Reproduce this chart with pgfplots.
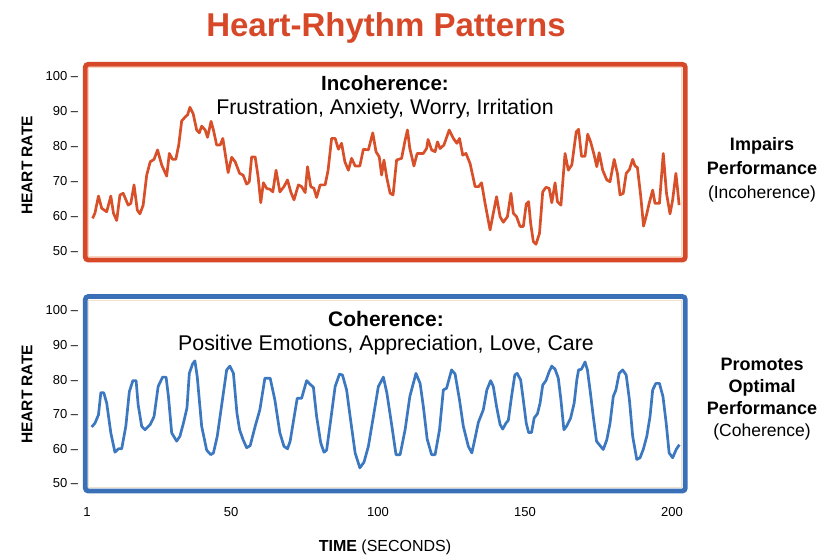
\documentclass[border=0pt]{standalone}
\usepackage{fontspec}
\setmainfont{Liberation Sans}
\usepackage{pgfplots}
\usepackage{pgfplotstable}
\pgfplotsset{compat=1.18}
\definecolor{topred}{RGB}{214,72,40}
\definecolor{linered}{RGB}{216,80,42}
\definecolor{boxblue}{RGB}{58,112,184}
\definecolor{lineblue}{RGB}{60,120,192}
\definecolor{peach}{RGB}{248,214,190}
\definecolor{beige}{RGB}{238,226,205}

\pgfplotstableread{
t hr
2.9 59.3
3.7 60.8
4.9 65.7
6.0 62.2
7.7 61.2
9.1 65.7
10.0 60.8
11.1 58.7
12.2 66.0
13.3 66.5
15.0 63.1
15.9 63.6
17.0 68.9
18.1 61.7
19.0 60.6
20.1 63.1
21.3 71.7
22.5 75.5
23.8 76.2
25.0 78.9
26.4 74.6
28.1 71.4
29.0 77.9
30.1 76.2
31.2 76.2
32.2 80.3
33.2 87.2
34.7 88.6
35.2 88.9
36.0 91.1
37.1 89.3
38.3 84.6
39.2 83.8
40.0 85.7
41.2 84.6
42.0 82.5
43.2 87.1
44.0 84.6
45.1 80.3
46.3 80.3
47.2 82.2
47.9 78.4
49.0 72.4
50.2 76.8
51.4 75.5
52.9 72.2
54.1 71.7
55.3 69.1
56.2 69.8
57.0 76.9
58.2 76.9
59.2 71.2
60.1 63.8
61.0 69.5
62.1 67.9
63.3 67.6
64.2 66.9
65.3 73.1
66.6 66.9
68.0 68.4
69.2 70.3
70.3 66.9
71.4 64.6
72.9 68.9
74.0 68.4
75.2 66.7
76.0 74.1
77.1 68.4
78.2 67.9
79.1 65.3
80.3 68.9
82.0 68.9
83.0 73.1
84.2 82.2
85.4 82.2
86.5 79.1
87.6 80.8
88.7 75.5
89.9 73.1
91.0 76.5
92.2 74.3
93.8 74.3
95.0 79.1
96.7 78.9
98.2 83.8
99.3 78.4
100.4 76.9
101.2 71.7
102.0 76.0
103.0 70.8
104.1 66.5
105.1 66.0
106.3 76.0
108.0 76.5
109.2 81.7
110.0 84.6
110.8 79.3
112.2 74.3
113.3 77.9
115.4 77.9
116.5 79.3
117.0 81.9
118.2 78.9
119.4 78.4
120.2 81.2
121.1 79.3
122.4 80.3
124.2 84.6
125.6 82.2
126.8 80.8
127.7 82.2
128.8 77.4
129.9 77.9
131.3 75.0
133.0 68.4
134.2 68.4
135.2 69.5
136.4 63.6
138.1 56.0
139.2 60.8
140.3 65.5
141.5 59.8
142.6 58.2
144.0 59.8
145.2 66.5
146.0 60.8
147.1 59.8
148.3 57.0
149.4 57.0
150.4 63.4
151.2 64.1
151.9 57.9
152.8 52.7
153.7 51.9
154.9 55.0
156.0 66.9
157.1 68.2
158.2 67.9
159.1 63.8
160.2 69.5
161.0 64.1
162.2 63.1
163.6 77.9
164.7 73.1
165.9 74.6
167.4 84.1
168.2 84.8
169.2 77.1
170.4 77.1
171.3 83.4
172.3 81.2
173.5 77.4
174.4 74.1
175.2 78.1
176.4 73.1
177.8 70.3
178.9 69.8
180.3 76.2
181.4 72.2
182.3 66.0
183.4 66.5
184.4 72.2
185.5 73.3
186.6 76.2
187.4 74.3
188.2 73.9
189.3 66.0
190.3 57.1
191.4 60.6
192.2 63.6
193.4 67.4
194.2 63.6
195.7 63.6
197.0 77.9
198.1 66.5
199.3 60.6
200.2 64.6
201.3 72.2
201.9 67.4
202.4 63.1
}\incoh

\pgfplotstableread{
t hr
2.6 66.3
3.7 67.4
4.9 69.8
5.7 76.2
6.7 76.2
7.7 73.2
9.1 64.6
10.5 59.0
11.7 60.0
12.8 60.0
14.2 66.5
15.4 76.5
16.6 79.7
17.7 79.7
18.4 72.7
19.6 66.5
20.7 65.5
22.5 67.0
23.8 69.3
25.2 78.0
26.7 80.7
27.9 80.7
28.7 75.1
29.8 64.6
31.5 62.2
32.6 63.6
33.8 67.4
35.0 71.8
35.8 81.8
36.9 84.5
37.7 85.4
38.5 80.8
40.0 66.5
41.7 59.6
43.1 58.3
44.0 58.8
45.3 63.6
46.9 73.2
48.5 82.8
49.6 83.9
50.8 81.8
52.0 70.3
52.9 65.5
54.1 62.6
55.3 60.3
56.5 60.9
58.2 66.5
59.8 71.3
61.5 80.4
63.3 80.4
64.9 74.1
66.6 64.6
68.0 60.7
69.2 60.0
70.1 62.2
71.1 67.4
72.5 74.6
74.0 74.6
75.7 79.7
76.8 78.7
78.0 77.8
79.1 69.3
80.5 61.7
81.6 59.0
82.5 59.6
83.9 68.4
85.4 78.0
86.9 81.6
87.9 81.3
89.3 77.0
90.5 69.3
92.2 58.8
93.8 54.5
95.2 56.1
96.7 60.7
98.4 69.3
100.1 78.0
101.8 80.7
103.0 76.1
104.7 66.5
106.1 58.3
107.5 58.3
109.2 65.5
110.8 75.1
112.9 81.8
114.3 78.9
115.4 72.2
116.7 62.8
118.2 58.3
119.4 58.3
120.9 65.5
122.2 77.0
123.3 77.5
125.0 82.8
126.2 81.6
127.7 74.1
129.0 66.5
130.7 60.7
131.9 58.8
133.0 63.1
134.1 67.6
135.8 71.3
137.0 77.0
138.3 79.7
139.2 78.0
140.3 72.2
141.5 67.0
142.4 65.7
143.5 67.4
144.3 68.2
145.4 75.1
146.5 81.3
147.3 81.8
148.5 79.9
149.4 74.1
150.4 67.4
151.2 64.7
152.2 64.7
153.1 68.9
154.2 70.1
155.1 73.2
156.0 78.4
157.1 79.7
158.2 82.3
159.1 83.9
160.2 83.0
161.3 80.4
162.2 74.1
163.2 65.5
164.1 66.5
165.5 68.9
166.7 73.2
167.6 79.9
168.2 82.8
169.2 83.0
170.4 85.1
171.2 82.8
172.1 77.0
173.2 69.3
174.3 62.2
175.5 60.9
176.6 59.8
177.8 62.6
178.9 67.4
180.0 75.1
180.9 77.0
182.0 81.8
183.2 82.8
184.4 81.3
185.5 74.1
186.6 63.6
188.0 56.9
189.1 57.4
190.2 59.8
191.4 63.6
192.5 69.3
193.4 77.0
194.5 78.9
195.7 78.9
196.9 75.1
198.0 67.4
199.0 58.8
200.2 57.4
201.4 59.8
202.5 61.2
}\coh

\pgfplotsset{hrstyle/.style={
  scale only axis, width=600pt,
  xmin=0.42, xmax=204.5,
  ytick={50,60,70,80,90,100},
  yticklabel={\pgfmathprintnumber{\tick}\ \textendash},
  yticklabel style={font=\fontsize{13}{13}\selectfont, anchor=east, inner sep=0pt, xshift=-7pt},
  /pgf/number format/assume math mode=true,
  tick style={draw=none},
  axis line style={draw=none},
  clip=false,
}}

\begin{document}
\begin{tikzpicture}
\useasboundingbox (0pt,0pt) rectangle (832pt,-556pt);

% top: incoherence
\begin{axis}[hrstyle, name=top, at={(85.3pt,-260pt)}, anchor=south west,
  height=195.7pt, ymin=47.4, ymax=103.4, xtick=\empty]
\addplot[linered, line width=2.7pt, line join=round, no markers] table[x=t, y=hr] {\incoh};
\end{axis}
\draw[peach, line width=1pt] ([shift={(3.5pt,3.5pt)}]top.south west) rectangle ([shift={(-3.5pt,-3.5pt)}]top.north east);
\draw[topred, line width=4.8pt, rounded corners=3pt] (top.south west) rectangle (top.north east);

% bottom: coherence
\begin{axis}[hrstyle, name=bot, at={(85.3pt,-491pt)}, anchor=south west,
  height=194.5pt, ymin=47.8, ymax=104.0,
  xtick={1,50,100,150,200},
  xticklabel style={font=\fontsize{13}{13}\selectfont, inner sep=0pt, anchor=base, yshift=-25pt}]
\addplot[lineblue, line width=2.7pt, line join=round, no markers] table[x=t, y=hr] {\coh};
\end{axis}
\draw[beige, line width=1pt] ([shift={(3.5pt,3.5pt)}]bot.south west) rectangle ([shift={(-3.5pt,-3.5pt)}]bot.north east);
\draw[boxblue, line width=4.8pt, rounded corners=3pt] (bot.south west) rectangle (bot.north east);

% titles and texts
\node[anchor=base, inner sep=0pt, font=\fontsize{33}{33}\selectfont\bfseries, text=topred] at (386pt,-37pt) {Heart-Rhythm Patterns};
\node[anchor=base, inner sep=0pt, font=\fontsize{20.5}{20}\selectfont\bfseries] at (385pt,-90.7pt) {Incoherence:};
\node[anchor=base, inner sep=0pt, font=\fontsize{21.3}{20}\selectfont] at (385pt,-115pt) {Frustration, Anxiety, Worry, Irritation};
\node[anchor=base, inner sep=0pt, font=\fontsize{21}{20}\selectfont\bfseries] at (386pt,-326pt) {Coherence:};
\node[anchor=base, inner sep=0pt, font=\fontsize{21.3}{20}\selectfont] at (386pt,-350pt) {Positive Emotions, Appreciation, Love, Care};

\node[rotate=90, inner sep=0pt, font=\fontsize{15.5}{15}\selectfont\bfseries] at (27pt,-165.5pt) {HEART RATE};
\node[rotate=90, inner sep=0pt, font=\fontsize{15.5}{15}\selectfont\bfseries] at (27pt,-394.5pt) {HEART RATE};

\node[anchor=base, inner sep=0pt, font=\fontsize{16}{16}\selectfont] at (385pt,-551.5pt) {\textbf{TIME} (SECONDS)};

\node[anchor=base, inner sep=0pt, font=\fontsize{18}{18}\selectfont\bfseries] at (762pt,-151pt) {Impairs};
\node[anchor=base, inner sep=0pt, font=\fontsize{18}{18}\selectfont\bfseries] at (762pt,-175pt) {Performance};
\node[anchor=base, inner sep=0pt, font=\fontsize{17.5}{18}\selectfont] at (762pt,-198.3pt) {(Incoherence)};

\node[anchor=base, inner sep=0pt, font=\fontsize{18}{18}\selectfont\bfseries] at (762pt,-370.5pt) {Promotes};
\node[anchor=base, inner sep=0pt, font=\fontsize{18}{18}\selectfont\bfseries] at (762pt,-392.5pt) {Optimal};
\node[anchor=base, inner sep=0pt, font=\fontsize{18}{18}\selectfont\bfseries] at (762pt,-414pt) {Performance};
\node[anchor=base, inner sep=0pt, font=\fontsize{17.5}{18}\selectfont] at (762pt,-436.5pt) {(Coherence)};
\end{tikzpicture}
\end{document}
